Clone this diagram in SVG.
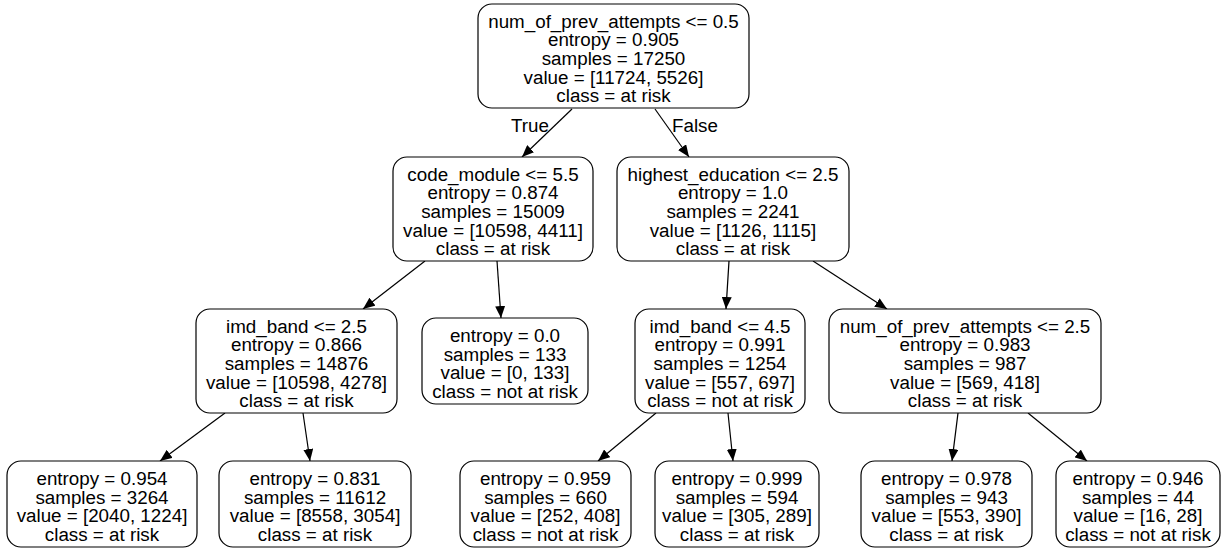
<svg xmlns="http://www.w3.org/2000/svg" width="1227" height="552" viewBox="0 0 1227 552">
<defs>
<style>
.box{fill:#fff;stroke:#000;stroke-width:1.2}
text{font-family:"Liberation Sans",Arial,Helvetica,sans-serif;font-size:18.8px;fill:#000;text-anchor:middle}
.edge{stroke:#000;stroke-width:1.2;fill:none;marker-end:url(#arr)}
</style>
<marker id="arr" viewBox="0 0 12 10" refX="12" refY="5" markerWidth="12" markerHeight="10" markerUnits="userSpaceOnUse" orient="auto">
<path d="M0,0 L12,5 L0,10 z" fill="#000"/>
</marker>
</defs>
<rect width="1227" height="552" fill="#fff"/>
<g id="connectors">
<line class="edge" x1="572" y1="109" x2="522" y2="157"/>
<line class="edge" x1="655" y1="109" x2="689" y2="157"/>
<line class="edge" x1="425" y1="261" x2="363" y2="309"/>
<line class="edge" x1="497" y1="261" x2="501" y2="318"/>
<line class="edge" x1="729" y1="261" x2="726" y2="309"/>
<line class="edge" x1="813" y1="261" x2="887" y2="309"/>
<line class="edge" x1="225" y1="413" x2="160" y2="461"/>
<line class="edge" x1="303" y1="413" x2="310" y2="461"/>
<line class="edge" x1="656" y1="413" x2="598" y2="461"/>
<line class="edge" x1="728" y1="413" x2="733" y2="461"/>
<line class="edge" x1="958" y1="413" x2="952" y2="461"/>
<line class="edge" x1="1028" y1="413" x2="1087" y2="461"/>
<text x="530" y="132">True</text>
<text x="695" y="132">False</text>
</g>
<g id="n0">
<rect class="box" x="478" y="4" width="271" height="104" rx="14"/>
<text x="613.5" y="27.5">num_of_prev_attempts &lt;= 0.5</text>
<text x="613.5" y="46.2">entropy = 0.905</text>
<text x="613.5" y="64.9">samples = 17250</text>
<text x="613.5" y="83.6">value = [11724, 5526]</text>
<text x="613.5" y="102.3">class = at risk</text>
</g>
<g id="n1">
<rect class="box" x="393" y="157" width="200" height="104" rx="14"/>
<text x="493" y="180.5">code_module &lt;= 5.5</text>
<text x="493" y="199.2">entropy = 0.874</text>
<text x="493" y="217.9">samples = 15009</text>
<text x="493" y="236.6">value = [10598, 4411]</text>
<text x="493" y="255.3">class = at risk</text>
</g>
<g id="n2">
<rect class="box" x="617" y="157" width="232" height="104" rx="14"/>
<text x="733" y="180.5">highest_education &lt;= 2.5</text>
<text x="733" y="199.2">entropy = 1.0</text>
<text x="733" y="217.9">samples = 2241</text>
<text x="733" y="236.6">value = [1126, 1115]</text>
<text x="733" y="255.3">class = at risk</text>
</g>
<g id="n3">
<rect class="box" x="196" y="309" width="201" height="104" rx="14"/>
<text x="296.5" y="332.5">imd_band &lt;= 2.5</text>
<text x="296.5" y="351.2">entropy = 0.866</text>
<text x="296.5" y="369.9">samples = 14876</text>
<text x="296.5" y="388.6">value = [10598, 4278]</text>
<text x="296.5" y="407.3">class = at risk</text>
</g>
<g id="n4">
<rect class="box" x="422" y="318" width="166" height="86" rx="14"/>
<text x="505" y="341.9">entropy = 0.0</text>
<text x="505" y="360.6">samples = 133</text>
<text x="505" y="379.3">value = [0, 133]</text>
<text x="505" y="398">class = not at risk</text>
</g>
<g id="n5">
<rect class="box" x="635" y="309" width="170" height="104" rx="14"/>
<text x="720" y="332.5">imd_band &lt;= 4.5</text>
<text x="720" y="351.2">entropy = 0.991</text>
<text x="720" y="369.9">samples = 1254</text>
<text x="720" y="388.6">value = [557, 697]</text>
<text x="720" y="407.3">class = not at risk</text>
</g>
<g id="n6">
<rect class="box" x="829" y="309" width="272" height="104" rx="14"/>
<text x="965" y="332.5">num_of_prev_attempts &lt;= 2.5</text>
<text x="965" y="351.2">entropy = 0.983</text>
<text x="965" y="369.9">samples = 987</text>
<text x="965" y="388.6">value = [569, 418]</text>
<text x="965" y="407.3">class = at risk</text>
</g>
<g id="n7">
<rect class="box" x="7" y="461" width="190" height="86" rx="14"/>
<text x="102" y="484.9">entropy = 0.954</text>
<text x="102" y="503.6">samples = 3264</text>
<text x="102" y="522.3">value = [2040, 1224]</text>
<text x="102" y="541">class = at risk</text>
</g>
<g id="n8">
<rect class="box" x="219" y="461" width="192" height="86" rx="14"/>
<text x="315" y="484.9">entropy = 0.831</text>
<text x="315" y="503.6">samples = 11612</text>
<text x="315" y="522.3">value = [8558, 3054]</text>
<text x="315" y="541">class = at risk</text>
</g>
<g id="n9">
<rect class="box" x="460" y="461" width="171" height="86" rx="14"/>
<text x="545.5" y="484.9">entropy = 0.959</text>
<text x="545.5" y="503.6">samples = 660</text>
<text x="545.5" y="522.3">value = [252, 408]</text>
<text x="545.5" y="541">class = not at risk</text>
</g>
<g id="n10">
<rect class="box" x="655" y="461" width="164" height="86" rx="14"/>
<text x="737" y="484.9">entropy = 0.999</text>
<text x="737" y="503.6">samples = 594</text>
<text x="737" y="522.3">value = [305, 289]</text>
<text x="737" y="541">class = at risk</text>
</g>
<g id="n11">
<rect class="box" x="861" y="461" width="171" height="86" rx="14"/>
<text x="946.5" y="484.9">entropy = 0.978</text>
<text x="946.5" y="503.6">samples = 943</text>
<text x="946.5" y="522.3">value = [553, 390]</text>
<text x="946.5" y="541">class = at risk</text>
</g>
<g id="n12">
<rect class="box" x="1056" y="461" width="164" height="86" rx="14"/>
<text x="1138" y="484.9">entropy = 0.946</text>
<text x="1138" y="503.6">samples = 44</text>
<text x="1138" y="522.3">value = [16, 28]</text>
<text x="1138" y="541">class = not at risk</text>
</g>
</svg>
